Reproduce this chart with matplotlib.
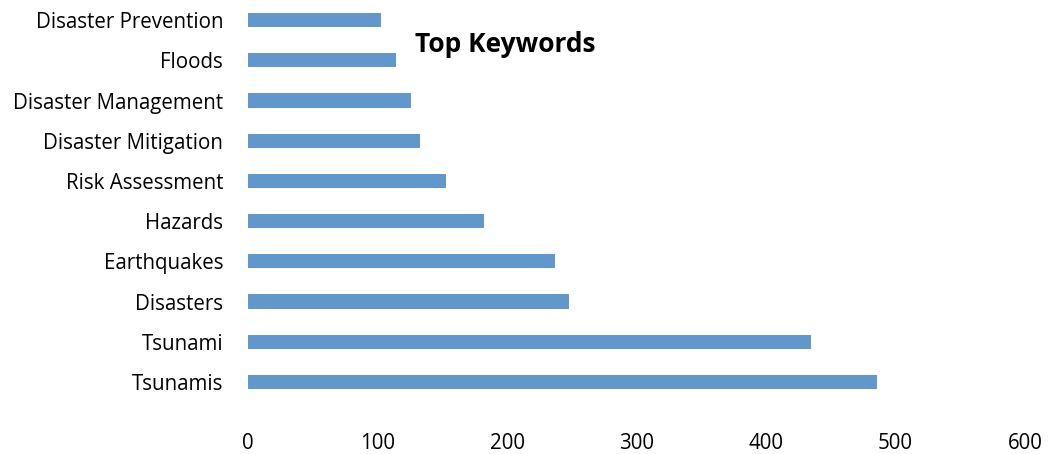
import matplotlib
matplotlib.use("Agg")
import matplotlib.pyplot as plt

keywords = ["Tsunamis", "Tsunami", "Disasters", "Earthquakes", "Hazards",
            "Risk Assessment", "Disaster Mitigation", "Disaster Management",
            "Floods", "Disaster Prevention"]
counts = [486, 435, 248, 237, 182, 153, 133, 126, 114, 103]
xticks = [0, 100, 200, 300, 400, 500, 600]

plt.rcParams['font.family'] = ['Open Sans', 'DejaVu Sans']

fig = plt.figure(figsize=(10.48, 4.54), dpi=100)
ax = fig.add_axes([248 / 1048, 1 - 402 / 454, 777 / 1048, 402 / 454])

ax.barh(range(len(keywords)), counts, height=0.35, color='#6297cb')
ax.set_yticks(range(len(keywords)))
ax.set_yticklabels(keywords, fontsize=14.8)
ax.set_ylim(-0.5, len(keywords) - 0.5)
ax.set_xlim(0, 600)
ax.set_xticks(xticks)
ax.set_xticklabels([str(t) for t in xticks], fontsize=14.8)

for s in ax.spines.values():
    s.set_visible(False)
ax.tick_params(axis='y', length=0, pad=18)
ax.tick_params(axis='x', length=0, pad=22)

ax.text(0.331, 1 - 45 / 402, "Top Keywords", transform=ax.transAxes,
        ha='center', va='center', fontsize=19, fontweight='bold')

fig.savefig("out.png", dpi=100)
